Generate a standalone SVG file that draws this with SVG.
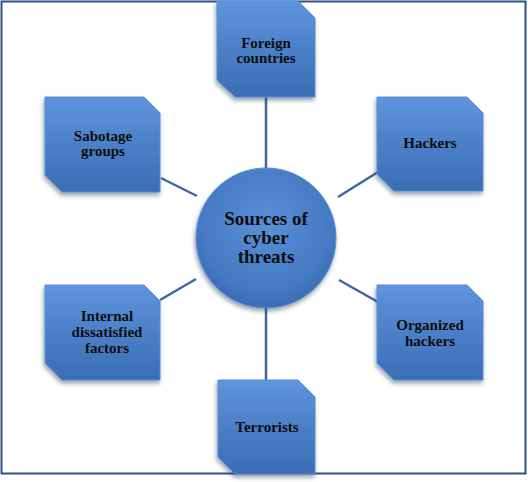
<svg xmlns="http://www.w3.org/2000/svg" width="528" height="482" viewBox="0 0 528 482">
<defs>
<linearGradient id="boxg" x1="0" y1="0" x2="0" y2="1">
<stop offset="0" stop-color="#5f95dc"/>
<stop offset="0.5" stop-color="#4b80c8"/>
<stop offset="1" stop-color="#3b6db4"/>
</linearGradient>
<radialGradient id="circg" cx="0.5" cy="0.4" r="0.6">
<stop offset="0" stop-color="#5a90d8"/>
<stop offset="0.8" stop-color="#4479c2"/>
<stop offset="1" stop-color="#3a6cb2"/>
</radialGradient>
<filter id="sh" x="-20%" y="-20%" width="140%" height="140%">
<feDropShadow dx="-1" dy="3" stdDeviation="2" flood-color="#1c3050" flood-opacity="0.45"/>
</filter>
</defs>
<style>
.box{fill:url(#boxg);stroke:#5a8ed4;stroke-width:1;filter:url(#sh)}
.circ{fill:url(#circg);stroke:#5a8ed4;stroke-width:1;filter:url(#sh)}
.lbl{font-family:"Liberation Serif","Times New Roman",serif;font-weight:bold;font-size:15px;fill:#0d0d0d;text-anchor:middle}
.big{font-size:19px}
.con{stroke:#3d66a3;stroke-width:2.5;fill:none}
</style>
<rect x="1.5" y="1.5" width="524" height="472" fill="#ffffff" stroke="#2e4f8a" stroke-width="2"/>
<g id="connectors">
<line class="con" x1="266" y1="97" x2="266" y2="169"/>
<line class="con" x1="266" y1="307" x2="266" y2="380"/>
<line class="con" x1="338" y1="197" x2="378" y2="172"/>
<line class="con" x1="161" y1="178" x2="197" y2="196"/>
<line class="con" x1="160" y1="300" x2="196" y2="279"/>
<line class="con" x1="339" y1="280" x2="378" y2="302"/>
</g>
<g id="foreign">
<path class="box" d="M217,1 H298 L315,18 V97 H235 L217,80 Z"/>
<text class="lbl" x="266" y="48">Foreign</text>
<text class="lbl" x="266" y="63">countries</text>
</g>
<g id="sabotage">
<path class="box" d="M45,97 H144 L160,113 V192 H62 L45,175 Z"/>
<text class="lbl" x="103" y="141">Sabotage</text>
<text class="lbl" x="103" y="156">groups</text>
</g>
<g id="hackers">
<path class="box" d="M377,97 H467 L483,113 V191 H394 L377,174 Z"/>
<text class="lbl" x="430" y="148">Hackers</text>
</g>
<g id="internal">
<path class="box" d="M45,285 H144 L160,301 V380 H62 L45,363 Z"/>
<text class="lbl" x="107" y="321">Internal</text>
<text class="lbl" x="107" y="337">dissatisfied</text>
<text class="lbl" x="107" y="353">factors</text>
</g>
<g id="organized">
<path class="box" d="M377,285 H467 L483,301 V380 H394 L377,363 Z"/>
<text class="lbl" x="430" y="330">Organized</text>
<text class="lbl" x="430" y="346">hackers</text>
</g>
<g id="terrorists">
<path class="box" d="M218,380 H298 L315,397 V474 H235 L218,457 Z"/>
<text class="lbl" x="267" y="432">Terrorists</text>
</g>
<g id="center">
<circle class="circ" cx="266" cy="238" r="70"/>
<text class="lbl big" x="266" y="225">Sources of</text>
<text class="lbl big" x="266" y="244">cyber</text>
<text class="lbl big" x="266" y="263">threats</text>
</g>
</svg>
